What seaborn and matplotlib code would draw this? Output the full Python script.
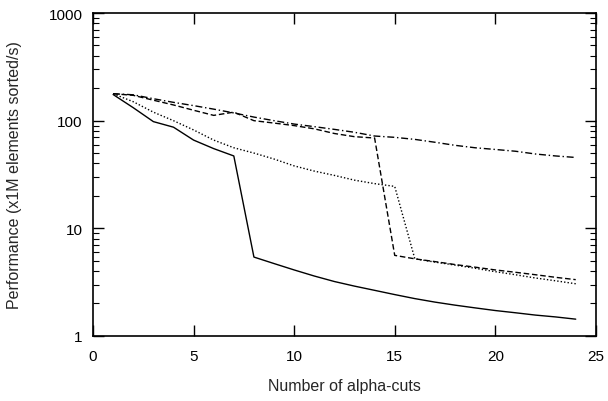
import numpy as np
import pandas as pd
import matplotlib
matplotlib.use("Agg")
import matplotlib.pyplot as plt
import matplotlib.ticker as mticker
import seaborn as sns

# data
alpha_cuts = list(range(1, 25))
perf_solid = [175, 132, 98, 87, 66, 55, 47, 5.4, 4.7, 4.1, 3.6, 3.2, 2.9, 2.65,
              2.42, 2.22, 2.06, 1.93, 1.82, 1.72, 1.64, 1.56, 1.5, 1.43]
perf_dashed = [178, 172, 155, 140, 125, 112, 120, 100, 95, 90, 84, 76, 71, 69,
               5.6, 5.2, 4.9, 4.6, 4.35, 4.1, 3.9, 3.7, 3.5, 3.33]
perf_dotted = [178, 150, 120, 100, 82, 66, 56, 50, 44, 38, 34, 31, 28, 26,
               24.5, 5.2, 4.85, 4.55, 4.25, 3.95, 3.7, 3.45, 3.25, 3.05]
perf_dashdot = [178, 174, 160, 148, 138, 128, 118, 108, 100, 93, 88, 83, 78, 72,
                70, 67, 63, 59, 56, 54, 52, 49, 47, 45.5]

series = {"a": perf_solid, "b": perf_dashed, "c": perf_dotted, "d": perf_dashdot}
df = pd.concat([pd.DataFrame({"cuts": alpha_cuts, "perf": v, "variant": k})
                for k, v in series.items()], ignore_index=True)

sns.set_style("ticks")
plt.rcParams["font.family"] = ["Liberation Sans", "DejaVu Sans"]

fig = plt.figure(figsize=(6.08, 4.02), dpi=100)
ax = fig.add_axes([0.153, 0.162, 0.827, 0.803])

sns.lineplot(data=df, x="cuts", y="perf", style="variant",
             dashes={"a": "", "b": (4, 2), "c": (1, 1.5), "d": (5, 2, 1, 2)},
             color="black", linewidth=1.0, legend=False, ax=ax)

ax.set_yscale("log")
ax.set_xlim(0, 25)
ax.set_ylim(1, 1000)
ax.set_xticks([0, 5, 10, 15, 20, 25])
ax.yaxis.set_major_locator(mticker.LogLocator(base=10))
ax.yaxis.set_major_formatter(mticker.FuncFormatter(lambda v, p: f"{int(round(v))}"))
ax.yaxis.set_minor_locator(mticker.LogLocator(base=10, subs=np.arange(2, 10)))
ax.yaxis.set_minor_formatter(mticker.NullFormatter())

ax.tick_params(which="both", direction="in", top=True, right=True, labelsize=11,
               color="black", labelcolor="black")
ax.tick_params(which="major", length=8, width=1)
ax.tick_params(which="minor", length=4, width=0.8)
ax.tick_params(axis="x", which="major", pad=9.5)
ax.tick_params(axis="y", which="major", pad=7.5)
ax.tick_params(axis="x", which="minor", top=False, bottom=False)
for s in ax.spines.values():
    s.set_linewidth(1.2)
    s.set_color("black")

ax.set_xlabel("Number of alpha-cuts", fontsize=11.5, labelpad=11)
ax.set_ylabel("Performance (x1M elements sorted/s)", fontsize=11.5, labelpad=19)

fig.savefig("out.png", dpi=100)
